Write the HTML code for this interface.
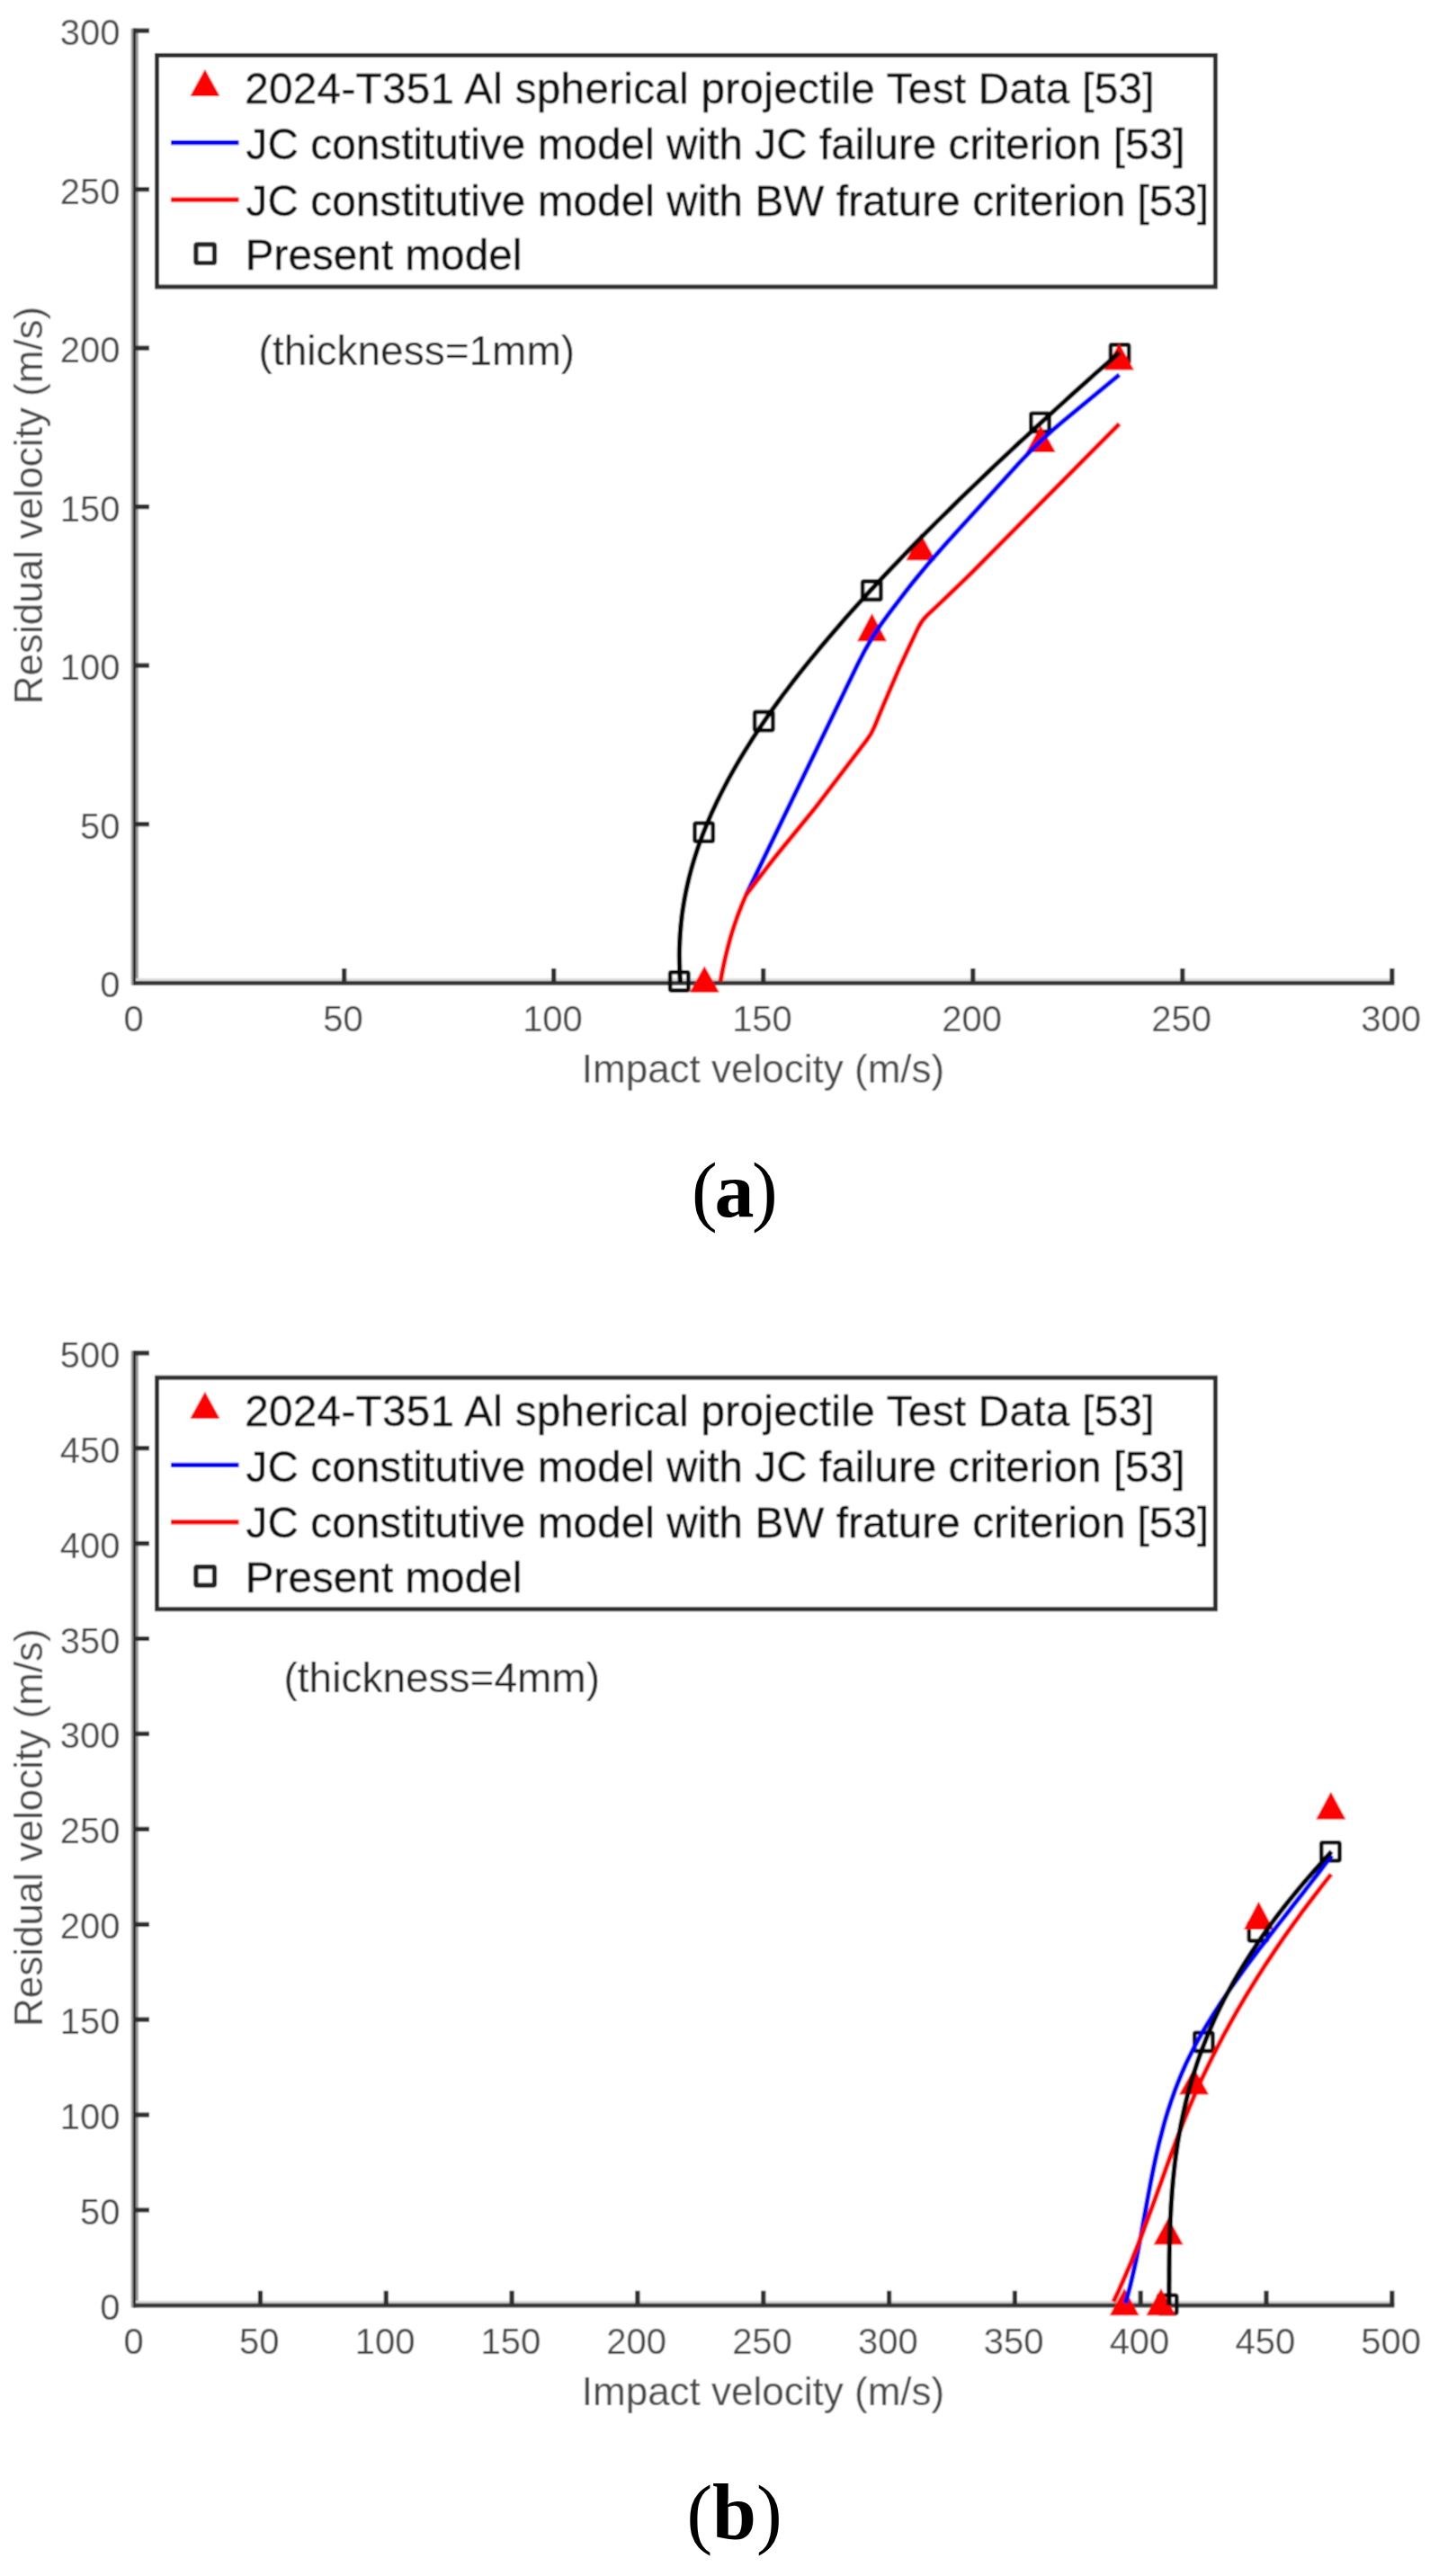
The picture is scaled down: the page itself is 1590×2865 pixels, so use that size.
<!DOCTYPE html>
<html lang="en"><head><meta charset="utf-8"><title>Residual velocity vs impact velocity</title>
<style>
html,body{margin:0;padding:0;background:#fff}
body{width:1590px;height:2865px;overflow:hidden}
svg{display:block;font-family:"Liberation Sans",sans-serif}
</style></head><body>
<svg width="1590" height="2865" viewBox="0 0 1590 2865">
<defs><filter id="soft" x="0" y="0" width="100%" height="100%" filterUnits="objectBoundingBox"><feConvolveMatrix order="3" kernelMatrix="1 2 1 2 4 2 1 2 1" divisor="16" edgeMode="duplicate" preserveAlpha="true"/></filter></defs>
<g filter="url(#soft)">
<rect width="1590" height="2865" fill="#fff"/>
<g>
<rect x="145.7" y="31.6" width="8.2" height="1064.2" fill="#9a9a9a"/>
<rect x="148" y="31.6" width="3" height="1064.2" fill="#2a2a2a"/>
<rect x="151" y="1088.1" width="1394.2" height="3" fill="#d9d9d9"/>
<rect x="148" y="1091.0" width="1402.4" height="4.8" fill="#363636"/>
<path d="M148 916.7 H166 M148 740.2 H166 M148 563.6 H166 M148 387.1 H166 M148 210.6 H166 M148 34.1 H166 M382.7 1093.2 v-16.2 M615.7 1093.2 v-16.2 M848.7 1093.2 v-16.2 M1081.8 1093.2 v-16.2 M1314.8 1093.2 v-16.2 M1547.8 1093.2 v-16.2 " fill="none" stroke="#2e2e2e" stroke-width="5.2"/>
<g font-size="40" fill="#484848">
<g text-anchor="end">
<text x="133.5" y="1109.2">0</text>
<text x="133.5" y="932.7">50</text>
<text x="133.5" y="756.2">100</text>
<text x="133.5" y="579.6">150</text>
<text x="133.5" y="403.1">200</text>
<text x="133.5" y="226.6">250</text>
<text x="133.5" y="50.1">300</text>
</g><g text-anchor="middle">
<text x="148.5" y="1147.2">0</text>
<text x="381.5" y="1147.2">50</text>
<text x="614.5" y="1147.2">100</text>
<text x="847.5" y="1147.2">150</text>
<text x="1080.6" y="1147.2">200</text>
<text x="1313.6" y="1147.2">250</text>
<text x="1546.6" y="1147.2">300</text>
</g></g>
<g font-size="44" fill="#484848" text-anchor="middle">
<text x="848.5" y="1204.0">Impact velocity (m/s)</text>
<text transform="translate(47 562.0) rotate(-90)">Residual velocity (m/s)</text>
</g>
<text x="287.6" y="405.8" font-size="46" fill="#262626">(thickness=1mm)</text>
<rect x="745.1" y="1081.3" width="20.3" height="20.3" rx="1.5" fill="none" stroke="#111" stroke-width="4.6"/>
<rect x="772.5" y="915.5" width="20.3" height="20.3" rx="1.5" fill="none" stroke="#111" stroke-width="4.6"/>
<rect x="839.1" y="791.9" width="20.3" height="20.3" rx="1.5" fill="none" stroke="#111" stroke-width="4.6"/>
<rect x="959.1" y="646.6" width="20.3" height="20.3" rx="1.5" fill="none" stroke="#111" stroke-width="4.6"/>
<rect x="1146.3" y="459.7" width="20.3" height="20.3" rx="1.5" fill="none" stroke="#111" stroke-width="4.6"/>
<rect x="1234.9" y="383.4" width="20.3" height="20.3" rx="1.5" fill="none" stroke="#111" stroke-width="4.6"/>
<path d="M783.3 1074.3 L799.8 1103.7 L766.8 1103.7 Z" fill="#ff0000"/>
<path d="M969.5 682.0 L986.0 713.3 L953.0 713.3 Z" fill="#ff0000"/>
<path d="M1023.8 593.2 L1040.3 623.3 L1007.3 623.3 Z" fill="#ff0000"/>
<path d="M1157.2 473.2 L1173.7 503.0 L1140.7 503.0 Z" fill="#ff0000"/>
<path d="M1244.4 381.7 L1260.9 411.5 L1227.9 411.5 Z" fill="#ff0000"/>
<path d="M829.5 995.5 L953.7 738.6 Q968.5 708.0 989.3 681.1 L1008.2 656.4 Q1029.0 629.5 1051.9 604.4 L1132.6 515.6 Q1155.5 490.5 1181.7 468.8 L1244.6 416.8" fill="none" stroke="#0000ff" stroke-width="5.2" stroke-linejoin="round"/>
<path d="M801.1 1091.5 L802.2 1085.5 L803.3 1079.5 L804.6 1073.5 L805.9 1067.5 L807.3 1061.5 L808.8 1055.5 L810.4 1049.5 L812.0 1043.5 L813.8 1037.5 L815.7 1031.5 L817.7 1025.5 L819.8 1019.5 L822.1 1013.5 L824.4 1007.5 L826.9 1001.5 L829.5 995.5 L829.5 995.5 L854.5 962.7 Q859.9 955.5 865.6 948.5 L899.5 907.0 Q905.2 900.0 910.7 892.8 L963.5 823.4 Q969.0 816.2 972.4 807.9 L977.3 796.0 Q980.7 787.7 984.2 779.4 L997.3 749.0 Q1000.8 740.7 1004.7 732.6 L1010.4 720.3 Q1014.3 712.2 1018.1 704.0 L1020.7 698.6 Q1024.5 690.4 1031.1 684.2 L1041.2 674.7 Q1047.8 668.5 1054.3 662.2 L1074.9 642.3 Q1081.4 636.0 1087.7 629.6 L1244.6 471.3" fill="none" stroke="#ff0000" stroke-width="5.2" stroke-linejoin="round"/>
<path d="M756.5 1093.2 L756.0 1085.4 L755.7 1077.6 L755.5 1069.8 L755.4 1062.0 L755.5 1054.2 L755.8 1046.5 L756.3 1038.7 L756.9 1030.9 L757.7 1023.1 L758.6 1015.3 L759.8 1007.5 L761.1 999.7 L762.6 991.9 L764.3 984.1 L766.1 976.3 L768.1 968.6 L770.3 960.8 L772.7 953.0 L775.2 945.2 L777.9 937.4 L780.8 929.6 L783.9 921.8 L787.1 914.0 L790.4 906.2 L794.0 898.4 L797.6 890.7 L801.5 882.9 L805.5 875.1 L809.6 867.3 L813.9 859.5 L818.3 851.7 L822.9 843.9 L827.6 836.1 L832.5 828.3 L837.4 820.5 L842.6 812.8 L847.8 805.0 L853.1 797.2 L858.6 789.4 L864.2 781.6 L869.9 773.8 L875.8 766.0 L881.7 758.2 L887.7 750.4 L893.9 742.6 L900.1 734.8 L906.5 727.1 L912.9 719.3 L919.5 711.5 L926.1 703.7 L932.8 695.9 L939.6 688.1 L946.5 680.3 L953.5 672.5 L960.6 664.7 L967.7 656.9 L974.9 649.2 L982.2 641.4 L989.5 633.6 L997.0 625.8 L1004.5 618.0 L1012.0 610.2 L1019.6 602.4 L1027.3 594.6 L1035.1 586.8 L1042.9 579.0 L1050.8 571.3 L1058.7 563.5 L1066.6 555.7 L1074.7 547.9 L1082.8 540.1 L1090.9 532.3 L1099.1 524.5 L1107.3 516.7 L1115.6 508.9 L1123.9 501.1 L1132.2 493.3 L1140.7 485.6 L1149.1 477.8 L1157.6 470.0 L1166.1 462.2 L1174.7 454.4 L1183.3 446.6 L1191.9 438.8 L1200.6 431.0 L1209.3 423.2 L1218.0 415.4 L1226.8 407.7 L1235.6 399.9 L1244.5 392.1" fill="none" stroke="#000" stroke-width="5.3" stroke-linejoin="round"/>
<rect x="174.5" y="61.5" width="1176.9" height="257.5" fill="#fff" stroke="#2e2e2e" stroke-width="5"/>
<path d="M227.9 77.0 L244.4 107.0 L211.4 107.0 Z" fill="#ff0000"/>
<path d="M190 158.7 H265.5" stroke="#0000ff" stroke-width="5.2"/>
<path d="M190 222.1 H265.5" stroke="#ff0000" stroke-width="5.2"/>
<rect x="217.9" y="271.9" width="20.6" height="20.6" rx="1.5" fill="none" stroke="#222" stroke-width="5.2"/>
<g font-size="47.7" fill="#0a0a0a" stroke="#0a0a0a" stroke-width="0.35">
<text x="272.2" y="115.0" textLength="1011.3" lengthAdjust="spacing">2024-T351 Al spherical projectile Test Data [53]</text>
<text x="273.6" y="177.0" textLength="1043.9" lengthAdjust="spacing">JC constitutive model with JC failure criterion [53]</text>
<text x="273.6" y="239.5" textLength="1070.6" lengthAdjust="spacing">JC constitutive model with BW frature criterion [53]</text>
<text x="272.8" y="300.0">Present model</text>
</g>
</g>
<g>
<rect x="145.7" y="1502.3" width="8.2" height="1064.2" fill="#9a9a9a"/>
<rect x="148" y="1502.3" width="3" height="1064.2" fill="#2a2a2a"/>
<rect x="151" y="2558.8" width="1394.2" height="3" fill="#d9d9d9"/>
<rect x="148" y="2561.7" width="1402.4" height="4.8" fill="#363636"/>
<path d="M148 2458.0 H166 M148 2352.1 H166 M148 2246.2 H166 M148 2140.3 H166 M148 2034.3 H166 M148 1928.4 H166 M148 1822.5 H166 M148 1716.6 H166 M148 1610.7 H166 M148 1504.8 H166 M289.5 2563.9 v-16.2 M429.3 2563.9 v-16.2 M569.1 2563.9 v-16.2 M708.9 2563.9 v-16.2 M848.8 2563.9 v-16.2 M988.6 2563.9 v-16.2 M1128.4 2563.9 v-16.2 M1268.2 2563.9 v-16.2 M1408.0 2563.9 v-16.2 M1547.8 2563.9 v-16.2 " fill="none" stroke="#2e2e2e" stroke-width="5.2"/>
<g font-size="40" fill="#484848">
<g text-anchor="end">
<text x="133.5" y="2579.9">0</text>
<text x="133.5" y="2474.0">50</text>
<text x="133.5" y="2368.1">100</text>
<text x="133.5" y="2262.2">150</text>
<text x="133.5" y="2156.3">200</text>
<text x="133.5" y="2050.3">250</text>
<text x="133.5" y="1944.4">300</text>
<text x="133.5" y="1838.5">350</text>
<text x="133.5" y="1732.6">400</text>
<text x="133.5" y="1626.7">450</text>
<text x="133.5" y="1520.8">500</text>
</g><g text-anchor="middle">
<text x="148.5" y="2617.9">0</text>
<text x="288.3" y="2617.9">50</text>
<text x="428.1" y="2617.9">100</text>
<text x="567.9" y="2617.9">150</text>
<text x="707.7" y="2617.9">200</text>
<text x="847.5" y="2617.9">250</text>
<text x="987.4" y="2617.9">300</text>
<text x="1127.2" y="2617.9">350</text>
<text x="1267.0" y="2617.9">400</text>
<text x="1406.8" y="2617.9">450</text>
<text x="1546.6" y="2617.9">500</text>
</g></g>
<g font-size="44" fill="#484848" text-anchor="middle">
<text x="848.5" y="2674.7">Impact velocity (m/s)</text>
<text transform="translate(47 2032.7) rotate(-90)">Residual velocity (m/s)</text>
</g>
<text x="315.5" y="1882.3" font-size="46" fill="#262626">(thickness=4mm)</text>
<rect x="1288.0" y="2552.8" width="20.3" height="20.3" rx="1.5" fill="none" stroke="#111" stroke-width="4.6"/>
<rect x="1328.2" y="2260.8" width="20.3" height="20.3" rx="1.5" fill="none" stroke="#111" stroke-width="4.6"/>
<rect x="1388.8" y="2138.3" width="20.3" height="20.3" rx="1.5" fill="none" stroke="#111" stroke-width="4.6"/>
<rect x="1469.2" y="2049.2" width="20.3" height="20.3" rx="1.5" fill="none" stroke="#111" stroke-width="4.6"/>
<path d="M1250.2 2545.0 L1266.7 2575.3 L1233.7 2575.3 Z" fill="#ff0000"/>
<path d="M1290.9 2545.0 L1307.4 2575.3 L1274.4 2575.3 Z" fill="#ff0000"/>
<path d="M1299.1 2466.2 L1315.6 2496.5 L1282.6 2496.5 Z" fill="#ff0000"/>
<path d="M1327.6 2299.7 L1344.1 2329.5 L1311.1 2329.5 Z" fill="#ff0000"/>
<path d="M1399.5 2114.7 L1416.0 2146.0 L1383.0 2146.0 Z" fill="#ff0000"/>
<path d="M1479.8 1992.7 L1496.3 2023.4 L1463.3 2023.4 Z" fill="#ff0000"/>
<path d="M1251.5 2561.5 L1253.2 2555.4 L1254.8 2549.4 L1256.4 2543.3 L1257.9 2537.2 L1259.3 2531.1 L1260.7 2525.1 L1262.1 2519.0 L1263.4 2512.9 L1264.6 2506.9 L1265.8 2500.8 L1267.0 2494.7 L1268.2 2488.6 L1269.3 2482.6 L1270.4 2476.5 L1271.5 2470.4 L1272.6 2464.3 L1273.7 2458.3 L1274.8 2452.2 L1275.9 2446.1 L1277.0 2440.1 L1278.2 2434.0 L1279.3 2427.9 L1280.5 2421.8 L1281.7 2415.8 L1282.9 2409.7 L1284.2 2403.6 L1285.5 2397.6 L1286.9 2391.5 L1288.3 2385.4 L1289.8 2379.3 L1291.4 2373.3 L1293.0 2367.2 L1294.6 2361.1 L1296.4 2355.1 L1298.2 2349.0 L1300.2 2342.9 L1302.2 2336.8 L1304.3 2330.8 L1306.5 2324.7 L1308.8 2318.6 L1311.2 2312.6 L1313.7 2306.5 L1316.4 2300.4 L1319.1 2294.3 L1322.0 2288.3 L1325.1 2282.2 L1328.2 2276.1 L1331.5 2270.0 L1334.9 2264.0 L1338.4 2257.9 L1342.0 2251.8 L1345.7 2245.8 L1349.5 2239.7 L1353.4 2233.6 L1357.4 2227.5 L1361.5 2221.5 L1365.6 2215.4 L1369.8 2209.3 L1374.1 2203.3 L1378.5 2197.2 L1382.9 2191.1 L1387.3 2185.0 L1391.8 2179.0 L1396.4 2172.9 L1401.0 2166.8 L1405.6 2160.8 L1410.3 2154.7 L1415.0 2148.6 L1419.7 2142.5 L1424.4 2136.5 L1429.2 2130.4 L1433.9 2124.3 L1438.7 2118.2 L1443.4 2112.2 L1448.2 2106.1 L1452.9 2100.0 L1457.6 2094.0 L1462.3 2087.9 L1467.0 2081.8 L1471.6 2075.7 L1476.2 2069.7 L1480.8 2063.6" fill="none" stroke="#0000ff" stroke-width="5.2" stroke-linejoin="round"/>
<path d="M1238.0 2560.0 L1240.9 2554.0 L1243.7 2548.0 L1246.4 2541.9 L1249.1 2535.9 L1251.7 2529.9 L1254.3 2523.9 L1256.8 2517.9 L1259.3 2511.8 L1261.7 2505.8 L1264.1 2499.8 L1266.4 2493.8 L1268.8 2487.8 L1271.0 2481.8 L1273.3 2475.7 L1275.5 2469.7 L1277.7 2463.7 L1279.9 2457.7 L1282.1 2451.7 L1284.3 2445.6 L1286.4 2439.6 L1288.6 2433.6 L1290.8 2427.6 L1292.9 2421.6 L1295.1 2415.5 L1297.2 2409.5 L1299.4 2403.5 L1301.6 2397.5 L1303.8 2391.5 L1306.1 2385.4 L1308.3 2379.4 L1310.6 2373.4 L1313.0 2367.4 L1315.3 2361.4 L1317.7 2355.4 L1320.2 2349.3 L1322.6 2343.3 L1325.2 2337.3 L1327.8 2331.3 L1330.4 2325.3 L1333.1 2319.2 L1335.8 2313.2 L1338.6 2307.2 L1341.5 2301.2 L1344.4 2295.2 L1347.4 2289.1 L1350.4 2283.1 L1353.4 2277.1 L1356.6 2271.1 L1359.7 2265.1 L1363.0 2259.1 L1366.3 2253.0 L1369.6 2247.0 L1373.0 2241.0 L1376.4 2235.0 L1379.9 2229.0 L1383.5 2222.9 L1387.1 2216.9 L1390.8 2210.9 L1394.5 2204.9 L1398.2 2198.9 L1402.1 2192.8 L1405.9 2186.8 L1409.9 2180.8 L1413.9 2174.8 L1417.9 2168.8 L1422.0 2162.7 L1426.1 2156.7 L1430.3 2150.7 L1434.6 2144.7 L1438.9 2138.7 L1443.3 2132.7 L1447.7 2126.6 L1452.2 2120.6 L1456.7 2114.6 L1461.3 2108.6 L1465.9 2102.6 L1470.6 2096.5 L1475.3 2090.5 L1480.1 2084.5" fill="none" stroke="#ff0000" stroke-width="5.2" stroke-linejoin="round"/>
<path d="M1299.9 2563.9 L1299.9 2558.3 L1299.9 2552.7 L1299.9 2547.1 L1299.9 2541.5 L1300.0 2535.9 L1300.0 2530.3 L1300.0 2524.7 L1300.1 2519.1 L1300.1 2513.4 L1300.2 2507.8 L1300.3 2502.2 L1300.4 2496.6 L1300.6 2491.0 L1300.7 2485.4 L1300.9 2479.8 L1301.1 2474.2 L1301.3 2468.6 L1301.6 2463.0 L1301.9 2457.4 L1302.2 2451.8 L1302.6 2446.2 L1303.0 2440.6 L1303.4 2435.0 L1303.9 2429.4 L1304.4 2423.7 L1305.0 2418.1 L1305.6 2412.5 L1306.2 2406.9 L1306.9 2401.3 L1307.7 2395.7 L1308.5 2390.1 L1309.3 2384.5 L1310.2 2378.9 L1311.2 2373.3 L1312.2 2367.7 L1313.2 2362.1 L1314.4 2356.5 L1315.6 2350.9 L1316.8 2345.3 L1318.1 2339.7 L1319.5 2334.0 L1320.9 2328.4 L1322.4 2322.8 L1324.0 2317.2 L1325.7 2311.6 L1327.4 2306.0 L1329.2 2300.4 L1331.0 2294.8 L1332.9 2289.2 L1334.9 2283.6 L1337.0 2278.0 L1339.2 2272.4 L1341.4 2266.8 L1343.7 2261.2 L1346.1 2255.6 L1348.6 2250.0 L1351.1 2244.3 L1353.7 2238.7 L1356.4 2233.1 L1359.2 2227.5 L1362.0 2221.9 L1365.0 2216.3 L1368.0 2210.7 L1371.1 2205.1 L1374.3 2199.5 L1377.6 2193.9 L1380.9 2188.3 L1384.4 2182.7 L1387.9 2177.1 L1391.5 2171.5 L1395.2 2165.9 L1398.9 2160.3 L1402.8 2154.6 L1406.7 2149.0 L1410.7 2143.4 L1414.8 2137.8 L1419.0 2132.2 L1423.2 2126.6 L1427.6 2121.0 L1432.0 2115.4 L1436.5 2109.8 L1441.1 2104.2 L1445.7 2098.6 L1450.5 2093.0 L1455.3 2087.4 L1460.2 2081.8 L1465.2 2076.2 L1470.2 2070.6 L1475.3 2065.0 L1480.5 2059.3" fill="none" stroke="#000" stroke-width="5.3" stroke-linejoin="round"/>
<rect x="174.5" y="1532.2" width="1176.9" height="257.5" fill="#fff" stroke="#2e2e2e" stroke-width="5"/>
<path d="M227.9 1547.7 L244.4 1577.7 L211.4 1577.7 Z" fill="#ff0000"/>
<path d="M190 1629.4 H265.5" stroke="#0000ff" stroke-width="5.2"/>
<path d="M190 1692.8 H265.5" stroke="#ff0000" stroke-width="5.2"/>
<rect x="217.9" y="1742.6" width="20.6" height="20.6" rx="1.5" fill="none" stroke="#222" stroke-width="5.2"/>
<g font-size="47.7" fill="#0a0a0a" stroke="#0a0a0a" stroke-width="0.35">
<text x="272.2" y="1585.7" textLength="1011.3" lengthAdjust="spacing">2024-T351 Al spherical projectile Test Data [53]</text>
<text x="273.6" y="1647.7" textLength="1043.9" lengthAdjust="spacing">JC constitutive model with JC failure criterion [53]</text>
<text x="273.6" y="1710.2" textLength="1070.6" lengthAdjust="spacing">JC constitutive model with BW frature criterion [53]</text>
<text x="272.8" y="1770.7">Present model</text>
</g>
</g>
</g>
<g font-family="'Liberation Serif', serif" fill="#000">
<text x="769.0" y="1352.8" font-size="86">(</text>
<text x="794.6" y="1352.8" font-size="88" font-weight="bold">a</text>
<text x="835.9" y="1352.8" font-size="86">)</text>
</g>
<g font-family="'Liberation Serif', serif" fill="#000">
<text x="763.5" y="2823.5" font-size="86">(</text>
<text x="791.9" y="2823.5" font-size="88" font-weight="bold">b</text>
<text x="841.1" y="2823.5" font-size="86">)</text>
</g>
</svg>
</body></html>
